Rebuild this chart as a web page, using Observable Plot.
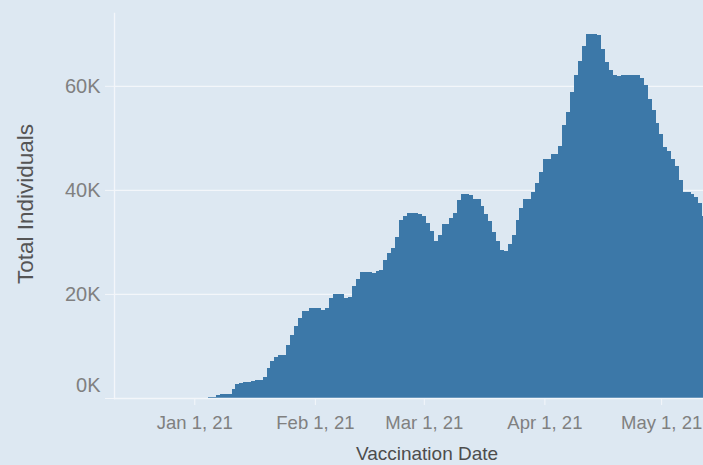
<!DOCTYPE html>
<html>
<head>
<meta charset="utf-8">
<script src="https://cdn.jsdelivr.net/npm/d3@7"></script>
<script src="https://cdn.jsdelivr.net/npm/@observablehq/plot@0.6"></script>
<style>
  html, body { margin: 0; padding: 0; background: #dde8f2; overflow: hidden; }
  #chart svg { display: block; }
</style>
</head>
<body>
<div id="chart"></div>
<script>
// Daily totals, starting 2021-01-05 (one value per day)
const firstDay = "2021-01-05";
const values = [
  250, 250, 550, 750, 750, 750, 1700, 2650, 2900, 3100, 3050, 3250, 3400, 3400,
  4100, 5700, 7050, 7900, 8200, 8200, 10100, 12200, 13800, 15450, 16700, 16700,
  17250, 17250, 17250, 16850, 17250, 19150, 19950, 19950, 19950, 19150, 19400,
  21550, 22950, 24300, 24300, 24300, 24050, 24400, 24600, 26600, 27950, 28800,
  30850, 34200, 35000, 35500, 35500, 35500, 35300, 35050, 33600, 32100, 30200,
  31300, 33400, 33400, 34650, 35500, 38150, 39300, 39300, 39000, 38200, 38200,
  36900, 35300, 34050, 32000, 30200, 28500, 28250, 29650, 31300, 34200, 36600,
  38200, 38200, 39500, 41400, 43500, 46000, 46000, 46850, 46850, 48450, 52450,
  55050, 58850, 62050, 64700, 67650, 70050, 70050, 70050, 69800, 67050, 64500,
  63100, 62050, 61800, 62050, 62050, 62050, 62050, 62050, 61500, 60150, 57450,
  55350, 52950, 50700, 48150, 47500, 45900, 44600, 41900, 39500, 39500, 39300,
  38700, 37550, 35000
];
const xTickDates = ["2021-01-01", "2021-02-01", "2021-03-01", "2021-04-01", "2021-05-01"];
const yTickValues = [20000, 40000, 60000];
const yZeroTick = [0];
const xTitle = "Vaccination Date";
const yTitle = "Total Individuals";

const start = new Date(firstDay + "T00:00Z");
const data = values.map((v, i) => ({ date: d3.utcDay.offset(start, i), value: v }));
const xTicks = xTickDates.map(s => new Date(s + "T00:00Z"));
const fmtX = d3.utcFormat("%b %-d, %y");
const fmtY = d => (d / 1000) + "K";

const light = "#f3f6fa";
const tickGrey = "#808080";
const font = "'Liberation Sans', Arial, sans-serif";

const chart = Plot.plot({
  width: 703,
  height: 465,
  marginTop: 13,
  marginBottom: 67,
  marginLeft: 114,
  marginRight: 0,
  style: { background: "transparent", fontFamily: font },
  x: { type: "utc", domain: [new Date("2020-12-11T08:40Z"), new Date("2021-05-11T18:30Z")], label: null },
  y: { domain: [0, 74000], label: null },
  marks: [
    Plot.gridY(yTickValues, { stroke: light, strokeOpacity: 1, strokeWidth: 1.3 }),
    Plot.rectY(data, {
      x1: d => d3.utcHour.offset(d.date, -10),
      x2: d => d3.utcHour.offset(d.date, 14),
      y: "value",
      fill: "#3c78a8",
      shapeRendering: "crispEdges",
      clip: true
    }),
    Plot.frame({ anchor: "left", stroke: light, strokeWidth: 1.3 }),
    Plot.frame({ anchor: "bottom", stroke: light, strokeWidth: 1.3 }),
    Plot.axisY(yTickValues, {
      tickSize: 9, tickPadding: 5, tickFormat: fmtY, fontSize: 20,
      fill: tickGrey, stroke: light, label: null
    }),
    Plot.axisY(yZeroTick, {
      tickSize: 9, tickPadding: 5, tickFormat: () => "", stroke: light, label: null
    }),
    Plot.text(yZeroTick, {
      y: d => d, text: fmtY, frameAnchor: "left", textAnchor: "end",
      dx: -14, dy: -13, fontSize: 20, fill: tickGrey
    }),
    Plot.axisX(xTicks, {
      tickSize: 7, tickPadding: 10, tickFormat: fmtX, fontSize: 18.5,
      fill: tickGrey, stroke: light, label: null
    }),
    Plot.text([yTitle], {
      frameAnchor: "left", textAnchor: "middle", rotate: -90, dx: -89, dy: -2,
      fontSize: 22.5, fill: "#555555"
    }),
    Plot.text([xTitle], {
      frameAnchor: "bottom", dy: 61, dx: 18, fontSize: 19, fill: "#4d4d4d"
    })
  ]
});
document.getElementById("chart").appendChild(chart);
</script>
</body>
</html>
